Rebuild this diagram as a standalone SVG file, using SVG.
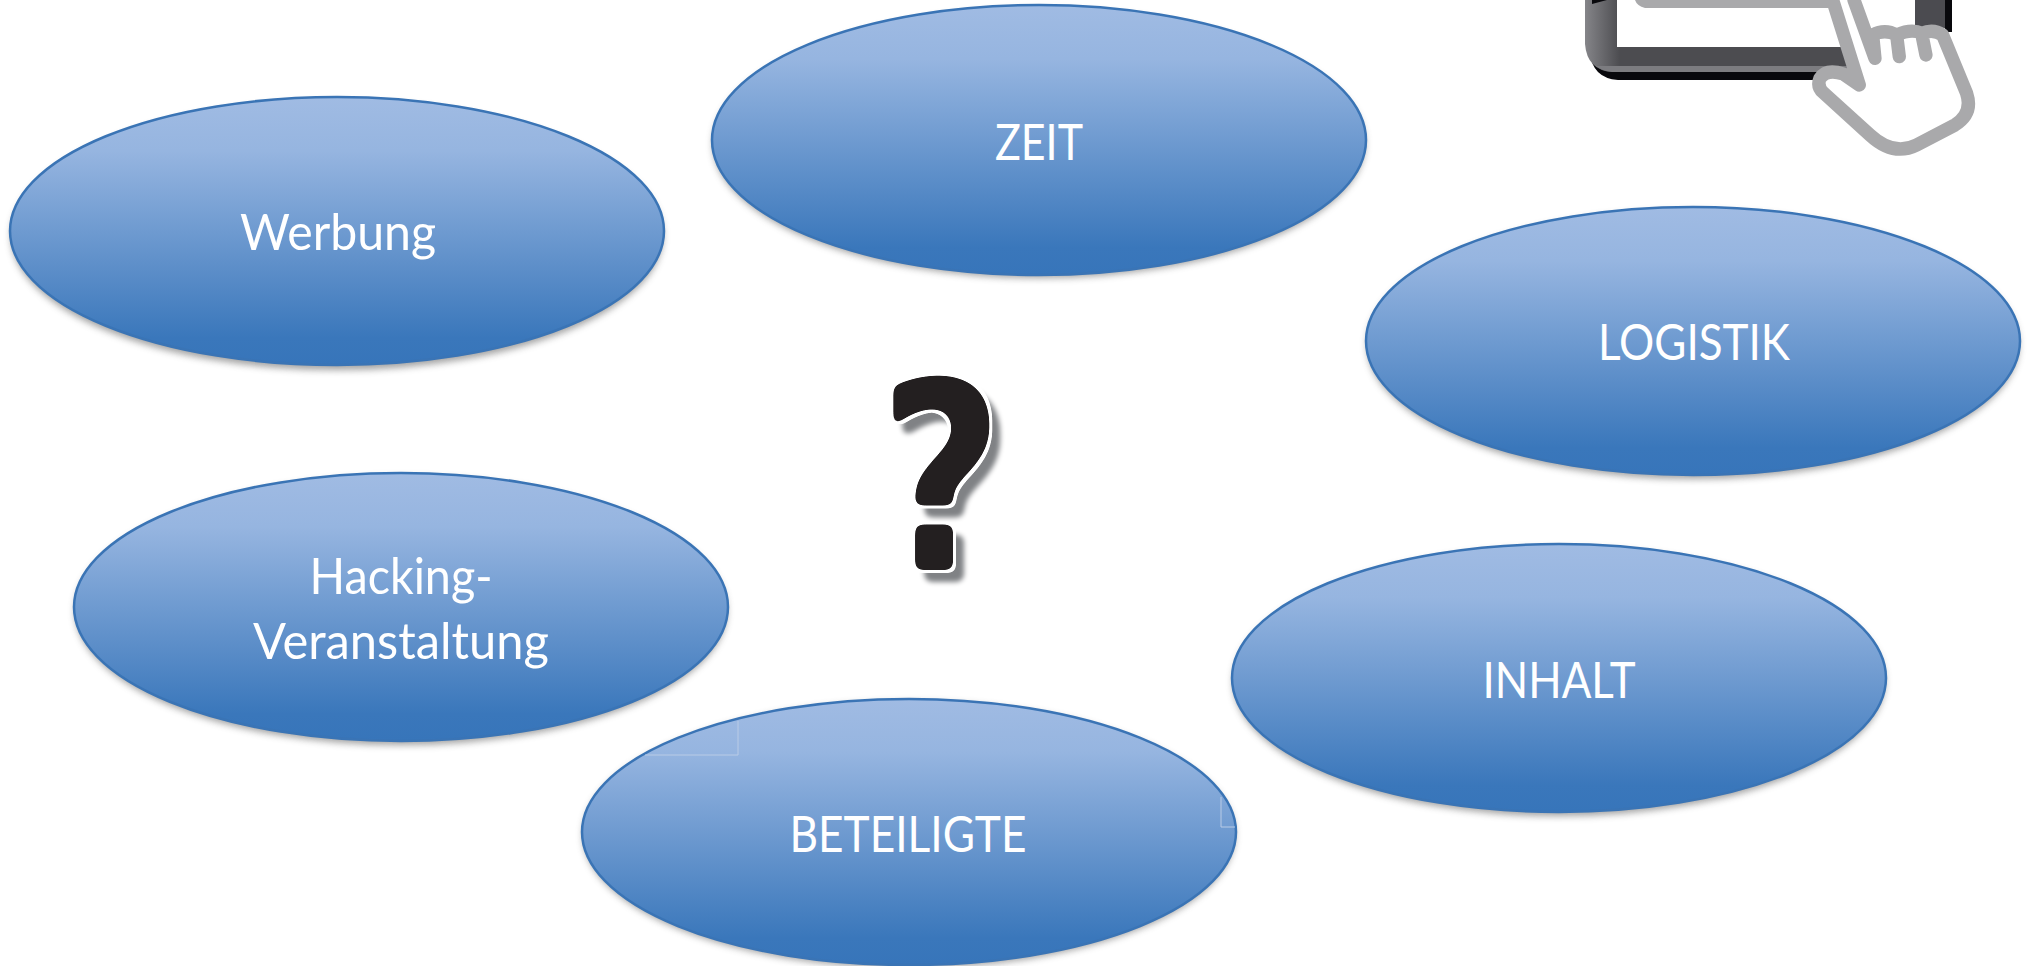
<svg xmlns="http://www.w3.org/2000/svg" width="2031" height="966" viewBox="0 0 2031 966">
<style>
.e{fill:url(#g);stroke:#3a74b5;stroke-width:2.5}
.s{fill:#555;opacity:.55;filter:url(#b)}
.t{font-family:"Lato","Liberation Sans",sans-serif;font-size:50px;font-weight:400;fill:#fff;text-anchor:middle}
.a{fill:none;stroke:#b9cbe6;stroke-width:1}
.q{font-family:"DejaVu Sans","Liberation Sans",sans-serif;font-weight:700;font-size:262px;text-anchor:middle;fill:#231f20}
</style>
<defs>
<linearGradient id="g" x1="0" y1="0" x2="0" y2="1"><stop offset="0" stop-color="#a0bbe3"/><stop offset=".2" stop-color="#96b5e0"/><stop offset=".9" stop-color="#3a77bb"/><stop offset="1" stop-color="#3775ba"/></linearGradient>
<linearGradient id="f" gradientUnits="userSpaceOnUse" x1="1585" y1="0" x2="1620" y2="0"><stop offset="0" stop-color="#858589"/><stop offset="1" stop-color="#4c4c50"/></linearGradient>
<filter id="b" x="-10%" y="-10%" width="120%" height="125%"><feGaussianBlur stdDeviation="3.5"/></filter>
<filter id="qf" x="-30%" y="-20%" width="160%" height="140%" color-interpolation-filters="sRGB">
<feGaussianBlur in="SourceAlpha" stdDeviation="4" result="bl"/>
<feComponentTransfer in="bl" result="body"><feFuncA type="linear" slope="14" intercept="-6.5"/></feComponentTransfer>
<feMorphology in="body" operator="dilate" radius="2.5" result="halo0"/>
<feFlood flood-color="#fff"/><feComposite in2="halo0" operator="in" result="halo"/>
<feFlood flood-color="#231f20"/><feComposite in2="body" operator="in" result="ink"/>
<feMorphology in="body" operator="dilate" radius="1" result="sh0"/>
<feOffset in="sh0" dx="10" dy="11" result="sh1"/><feGaussianBlur in="sh1" stdDeviation="2.5" result="sh2"/>
<feFlood flood-color="#808285"/><feComposite in2="sh2" operator="in" result="shadow"/>
<feMerge><feMergeNode in="shadow"/><feMergeNode in="halo"/><feMergeNode in="ink"/></feMerge>
</filter>
</defs>
<rect width="2031" height="966" fill="#fff"/>
<g id="connectors"/>
<g id="node-zeit"><ellipse class="s" cx="1039" cy="144" rx="326" ry="134"/><ellipse class="e" cx="1039" cy="140" rx="327" ry="135"/><text class="t" x="1039" y="160" textLength="88" lengthAdjust="spacingAndGlyphs">ZEIT</text></g>
<g id="node-werbung"><ellipse class="s" cx="337" cy="236" rx="326" ry="134"/><ellipse class="e" cx="337" cy="231" rx="327" ry="134"/><text class="t" x="338" y="250" textLength="196" lengthAdjust="spacingAndGlyphs">Werbung</text></g>
<g id="node-logistik"><ellipse class="s" cx="1693" cy="345" rx="326" ry="134"/><ellipse class="e" cx="1693" cy="341" rx="327" ry="134"/><text class="t" x="1694" y="360" textLength="192" lengthAdjust="spacingAndGlyphs">LOGISTIK</text></g>
<g id="node-hacking"><ellipse class="s" cx="401" cy="611" rx="326" ry="134"/><ellipse class="e" cx="401" cy="607" rx="327" ry="134"/><text class="t" x="401" y="594" textLength="183" lengthAdjust="spacingAndGlyphs">Hacking-</text><text class="t" x="401" y="659" textLength="296" lengthAdjust="spacingAndGlyphs">Veranstaltung</text></g>
<g id="node-inhalt"><ellipse class="s" cx="1559" cy="682" rx="326" ry="134"/><ellipse class="e" cx="1559" cy="678" rx="327" ry="134"/><text class="t" x="1559" y="698" textLength="153" lengthAdjust="spacingAndGlyphs">INHALT</text></g>
<g id="node-beteiligte"><ellipse class="s" cx="909" cy="835" rx="326" ry="133"/><ellipse class="e" cx="909" cy="832" rx="327" ry="133"/><path class="a" d="M738 721V755H645M1221 797V827H1235"/><text class="t" x="908" y="852" textLength="237" lengthAdjust="spacingAndGlyphs">BETEILIGTE</text></g>
<g id="question-mark" filter="url(#qf)"><text class="q" x="941" y="570" textLength="125" lengthAdjust="spacingAndGlyphs">?</text></g>
<g id="tablet">
<path d="M1590 20V52Q1592 78 1618 80H1830V60H1600Z" fill="#08080c"/>
<path d="M1585 0H1617V47H1850V72H1612Q1587 70 1585 44Z" fill="url(#f)"/>
<path d="M1596 66H1850V72H1612Q1602 71 1596 66Z" fill="#7c7c80"/>
<path d="M1915 0H1945V28H1915Z" fill="#4b4b50"/>
<path d="M1945 0H1952V32H1945Z" fill="#08080c"/>
<path d="M1592 0H1607L1592 4Z" fill="#08080c"/>
<path d="M1635 0H1835V8H1645Q1637 6 1635 0Z" fill="#a9a9ab"/>
</g>
<g id="hand" transform="translate(1550 0) scale(.3333)" fill="#fff" stroke="#a9a9ab" stroke-width="40" stroke-linejoin="round" stroke-linecap="round">
<path stroke="none" d="M850 0L925 255L880 225Q830 205 810 240Q800 260 820 275L960 405Q1030 470 1100 435L1215 375Q1270 340 1250 280L1180 100L1120 100L1040 100L975 100L910 0Z"/>
<path fill="none" d="M848 0L928 255L880 222Q830 205 810 235Q800 260 820 278L960 405Q1030 470 1100 435L1215 375Q1270 340 1250 280L1178 105Q1150 85 1115 100L1128 165M1115 100Q1085 85 1040 105L1048 170M1040 105Q1005 85 968 105L975 175M912 0L975 175"/>
</g>
</svg>
